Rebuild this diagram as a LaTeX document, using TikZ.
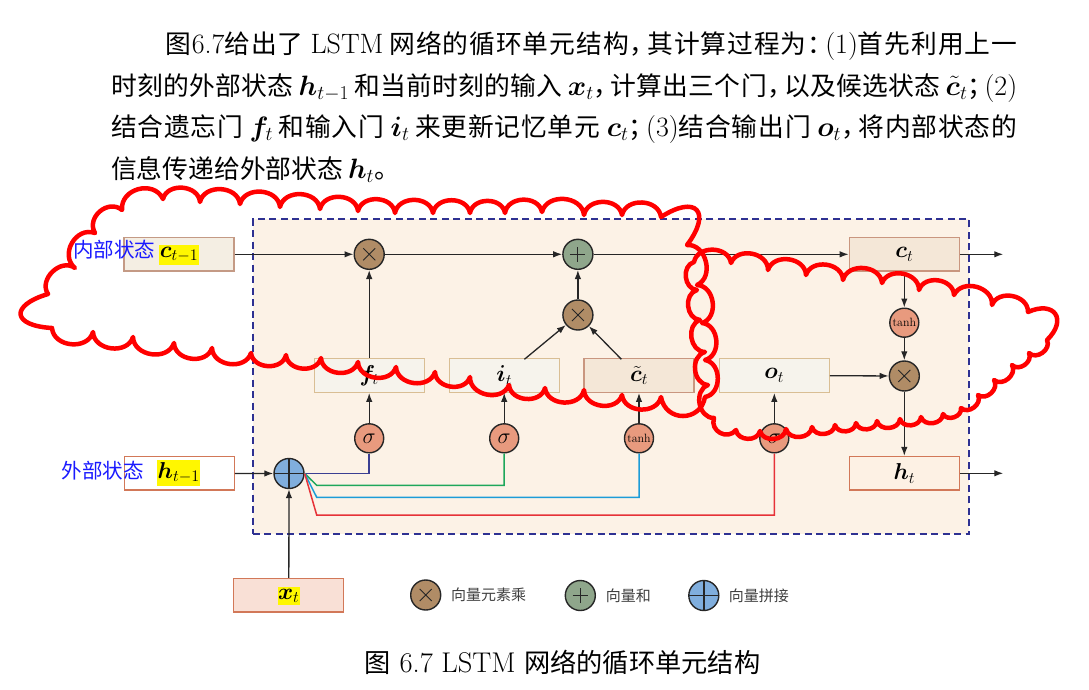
\RequirePackage{fix-cm}
\documentclass[tikz,border=0pt]{standalone}
\usepackage{fontspec}
\usepackage{amsmath,bm}
\usetikzlibrary{arrows.meta}
\newfontfamily\cjkfont[Scale=0.92]{Noto Sans CJK SC}
\def\spreadchars#1{\ifx#1\relax\else#1\hskip 0pt plus 1pt\relax\expandafter\spreadchars\fi}
\newcommand{\zhs}[1]{{\cjkfont #1}}
\newcommand{\zj}[1]{{\cjkfont\spreadchars#1\relax}}
\newcommand{\pc}[1]{\makebox[0.6em][l]{\cjkfont #1}\hskip 0pt plus 1pt\relax}
\newcommand{\gp}{\hskip 5pt plus 1pt\relax}
\definecolor{bgc}{HTML}{FCF2E6}
\definecolor{dashc}{HTML}{2E3192}
\definecolor{dk}{HTML}{262626}
\definecolor{boxa}{HTML}{F4EEE3}
\definecolor{bordera}{HTML}{C49A85}
\definecolor{boxb}{HTML}{F6F3EC}
\definecolor{borderb}{HTML}{D9BE94}
\definecolor{boxc}{HTML}{F4E7D7}
\definecolor{borderc}{HTML}{C9967F}
\definecolor{boxh}{HTML}{FDF1E4}
\definecolor{borderh}{HTML}{D27858}
\definecolor{boxx}{HTML}{F9E0D6}
\definecolor{mulc}{HTML}{B08C66}
\definecolor{sumc}{HTML}{8FA68B}
\definecolor{catc}{HTML}{80AEDD}
\definecolor{actc}{HTML}{E89A7E}
\definecolor{navyl}{HTML}{3B3F92}
\definecolor{greenl}{HTML}{1EA75B}
\definecolor{bluel}{HTML}{1C9CD8}
\definecolor{redl}{HTML}{E63238}
\definecolor{cloudc}{HTML}{FF0000}
\definecolor{labblue}{HTML}{1A1AFF}
\definecolor{legc}{HTML}{404040}
\definecolor{hly}{HTML}{FFF700}
\begin{document}
\begin{tikzpicture}[x=1pt,y=-1pt,
  every node/.style={inner sep=0pt},
  para/.style={font=\fontsize{28}{32}\selectfont, text=black},
  cell/.style={rectangle, minimum width=110pt, minimum height=33.5pt, line width=1.3pt, font=\fontsize{23}{23}\selectfont},
  opc/.style={circle, minimum size=30pt, draw=dk, line width=1.4pt},
  mulop/.style={opc, fill=mulc, path picture={\draw[dk,line width=0.9pt]
      ([shift={(-6pt,-6pt)}]path picture bounding box.center) -- ([shift={(6pt,6pt)}]path picture bounding box.center)
      ([shift={(-6pt,6pt)}]path picture bounding box.center) -- ([shift={(6pt,-6pt)}]path picture bounding box.center);}},
  sumop/.style={opc, fill=sumc, path picture={\draw[dk,line width=0.9pt]
      ([shift={(-7.5pt,0pt)}]path picture bounding box.center) -- ([shift={(7.5pt,0pt)}]path picture bounding box.center)
      ([shift={(0pt,-7.5pt)}]path picture bounding box.center) -- ([shift={(0pt,7.5pt)}]path picture bounding box.center);}},
  catop/.style={opc, fill=catc, path picture={\draw[dk,line width=1.6pt]
      (path picture bounding box.north) -- (path picture bounding box.south)
      (path picture bounding box.west) -- (path picture bounding box.east);}},
  actop/.style={opc, minimum size=29pt, fill=actc},
  arr/.style={draw=dk, line width=1.3pt, -{Latex[length=9pt,width=6.5pt]}},
  wire/.style={line width=1.5pt},
  hl/.style={fill=hly, inner xsep=0.5pt, inner ysep=2.5pt, font=\fontsize{23}{23}\selectfont},
  bluelab/.style={text=labblue, font=\fontsize{22.3}{24}\cjkfont},
  legtxt/.style={text=legc, font=\fontsize{16.3}{18}\cjkfont},
  cloud/.style={draw=cloudc, line width=4.5pt, line join=round, line cap=round},
]
\useasboundingbox (0,0) rectangle (1089,689);
\fill[white] (0,0) rectangle (1089,689);

% paragraph
\node[para, anchor=base west] (p1) at (165,53) {\hbox to 852pt{\zj{图}6.7\zj{给出了}\gp LSTM\gp\zj{网络的循环单元结构}\pc{，}\zj{其计算过程为}\pc{：}(1)\zj{首先利用上}\zhs{一}}};
\node[para, anchor=base west] (p2) at (111,95) {\hbox to 906pt{\zj{时刻的外部状态}\gp$\bm h_{t-1}$\gp\zj{和当前时刻的输入}\gp$\bm x_t$\pc{，}\zj{计算出三个门}\pc{，}\zj{以及候选状态}\gp$\tilde{\bm c}_t$\pc{；}(2)}};
\node[para, anchor=base west] (p3) at (111,136.5) {\hbox to 906pt{\zj{结合遗忘门}\gp$\bm f_t$\gp\zj{和输入门}\gp$\bm i_t$\gp\zj{来更新记忆单元}\gp$\bm c_t$\pc{；}(3)\zj{结合输出门}\gp$\bm o_t$\pc{，}\zj{将内部状态}\zhs{的}}};
\node[para, anchor=base west] (p4) at (111,178) {\zhs{信息传递给外部状态}\gp$\bm h_t$\zhs{。}};

% frame
\node[draw=dashc, fill=bgc, line width=2.3pt, dash pattern=on 7pt off 4.5pt, minimum width=716.6pt, minimum height=315.3pt] (frame) at (611,376.65) {};

% boxes
\node[cell, fill=boxa, draw=bordera] (cprev) at (179,254.3) {};
\node[cell, fill=white, draw=borderh] (hprev) at (179.3,473.3) {};
\node[cell, fill=boxx, draw=borderh] (xt) at (288.8,595.3) {};
\node[cell, fill=boxb, draw=borderb] (fbox) at (369.2,375.5) {$\bm f_t$};
\node[cell, fill=boxb, draw=borderb] (ibox) at (504.2,375.5) {$\bm i_t$};
\node[cell, fill=boxc, draw=borderc] (cbox) at (639,375.5) {$\tilde{\bm c}_t$};
\node[cell, fill=boxb, draw=borderb] (obox) at (774.3,375.5) {$\bm o_t$};
\node[cell, fill=boxc, draw=borderc] (ct) at (904.3,254.3) {$\bm c_t$};
\node[cell, fill=boxh, draw=borderh] (ht) at (904.3,473.3) {$\bm h_t$};

% highlighted labels
\node[hl] (tcprev) at (179,254.5) {$\bm c_{t-1}$};
\node[hl] (thprev) at (178.7,472.8) {$\bm h_{t-1}$};
\node[hl] (txt) at (288.7,596) {$\bm x_t$};

% operators
\node[mulop] (mf) at (369.2,254.3) {};
\node[sumop] (sum) at (577.9,254.3) {};
\node[mulop] (mi) at (577.9,315) {};
\node[actop, font=\fontsize{12}{12}\selectfont] (tanhr) at (904.3,322.7) {tanh};
\node[mulop] (mo) at (904.3,376) {};
\node[actop, font=\fontsize{22}{22}\selectfont] (sigf) at (369.2,438.3) {$\sigma$};
\node[actop, font=\fontsize{22}{22}\selectfont] (sigi) at (504.2,438.3) {$\sigma$};
\node[actop, font=\fontsize{12}{12}\selectfont] (tanhc) at (639,438.3) {tanh};
\node[actop, font=\fontsize{22}{22}\selectfont] (sigo) at (774.3,438.3) {$\sigma$};
\node[catop] (cat) at (289,473.5) {};

% coordinates
\coordinate (cout) at (1003.3,254.3);
\coordinate (hout) at (1003.3,473.3);
\coordinate (iout) at (524.4,359.3);
\coordinate (ctout) at (621.4,359.3);
\coordinate (g1) at (316.7,485.3);
\coordinate (b1) at (316.7,497.3);
\coordinate (r1) at (316.7,515);

% colored wires
\draw[wire, navyl] (cat.east) -| (sigf.south);
\draw[wire, greenl] (cat.east) -- (g1) -| (sigi.south);
\draw[wire, bluel] (cat.east) -- (b1) -| (tanhc.south);
\draw[wire, redl] (cat.east) -- (r1) -| (sigo.south);

% arrows
\draw[arr] (cprev) -- (mf);
\draw[arr] (mf) -- (sum);
\draw[arr] (sum) -- (ct);
\draw[arr] (ct.east) -- (cout);
\draw[arr] (fbox) -- (mf);
\draw[arr] (sigf) -- (fbox);
\draw[arr] (sigi) -- (ibox);
\draw[arr] (tanhc) -- (cbox);
\draw[arr] (sigo) -- (obox);
\draw[arr] (iout) -- (mi);
\draw[arr] (ctout) -- (mi);
\draw[arr] (mi) -- (sum);
\draw[arr] (ct) -- (tanhr);
\draw[arr] (tanhr) -- (mo);
\draw[arr] (obox) -- (mo);
\draw[arr] (mo) -- (ht);
\draw[arr] (ht.east) -- (hout);
\draw[arr] (hprev) -- (cat);
\draw[arr] (xt) -- (cat);

% blue labels
\node[bluelab, anchor=east] (lin) at (155.5,250) {内部状态};
\node[bluelab, anchor=east] (lex) at (144,471) {外部状态};

% legend
\node[mulop] (lg1) at (425.7,595) {};
\node[legtxt, anchor=west] (lt1) at (451,595) {向量元素乘};
\node[sumop] (lg2) at (580.3,595.5) {};
\node[legtxt, anchor=west] (lt2) at (605.6,595.5) {向量和};
\node[catop] (lg3) at (703.8,595.5) {};
\node[legtxt, anchor=west] (lt3) at (728.7,595.5) {向量拼接};

% caption
\node[font=\fontsize{28.5}{30}\selectfont, anchor=base] (cap) at (562.5,672.5) {\zhs{图}\ 6.7\ LSTM\ \zhs{网络的循环单元结构}};

% clouds
\draw[cloud] (52,328) foreach \x/\y/\l in {48/294/3.0, 75/268/1.2, 95/233/1.3, 122/210/1.3, 163/199/1.3, 200/202/1.2, 240/204/1.2, 280/207/1.2, 320/209/1.2, 358/211/1.2, 395/213/1.2, 433/213/1.2, 470/213/1.2, 505/213/1.2, 542/212/1.2, 584/215/1.2, 622/215/1.2, 661/217/1.2, 687/245/2.8, 697/285/1.2, 702/323/1.2, 705/360/1.2, 705/397/1.2, 661/397/1.5, 622/395/1.2, 584/390/1.2, 545/388/1.2, 509/385/1.2, 470/377/1.2, 435/372/1.2, 396/367/1.2, 358/362/1.2, 321/358/1.2, 286/355/1.2, 251/353/1.2, 212/348/1.2, 174/343/1.2, 133/337/1.2, 93/332/1.2, 52/328/1.2} { to[bend left=80, looseness=\l] (\x,\y) };
\draw[cloud] (694,262) foreach \x/\y/\l in {731/263/1.2, 768/270/1.2, 806/275/1.2, 843/280/1.2, 882/283/1.2, 919/290/1.2, 954/295/1.2, 992/305/1.2, 1028/312/1.2, 1047/340/2.2, 1029/353/1.2, 1012/365/1.2, 994/380/1.2, 978/395/1.2, 961/408/1.2, 943/414/1.2, 921/417/1.2, 900/419/1.2, 877/421/1.2, 856/423/1.2, 835/425/1.2, 812/427/1.2, 786/429/1.2, 760/431/1.2, 736/430/1.2, 714/418/1.4, 708/385/1.2, 705/352/1.2, 700/320/1.2, 697/290/1.2, 694/262/1.2} { to[bend left=80, looseness=\l] (\x,\y) };
\end{tikzpicture}
\end{document}
